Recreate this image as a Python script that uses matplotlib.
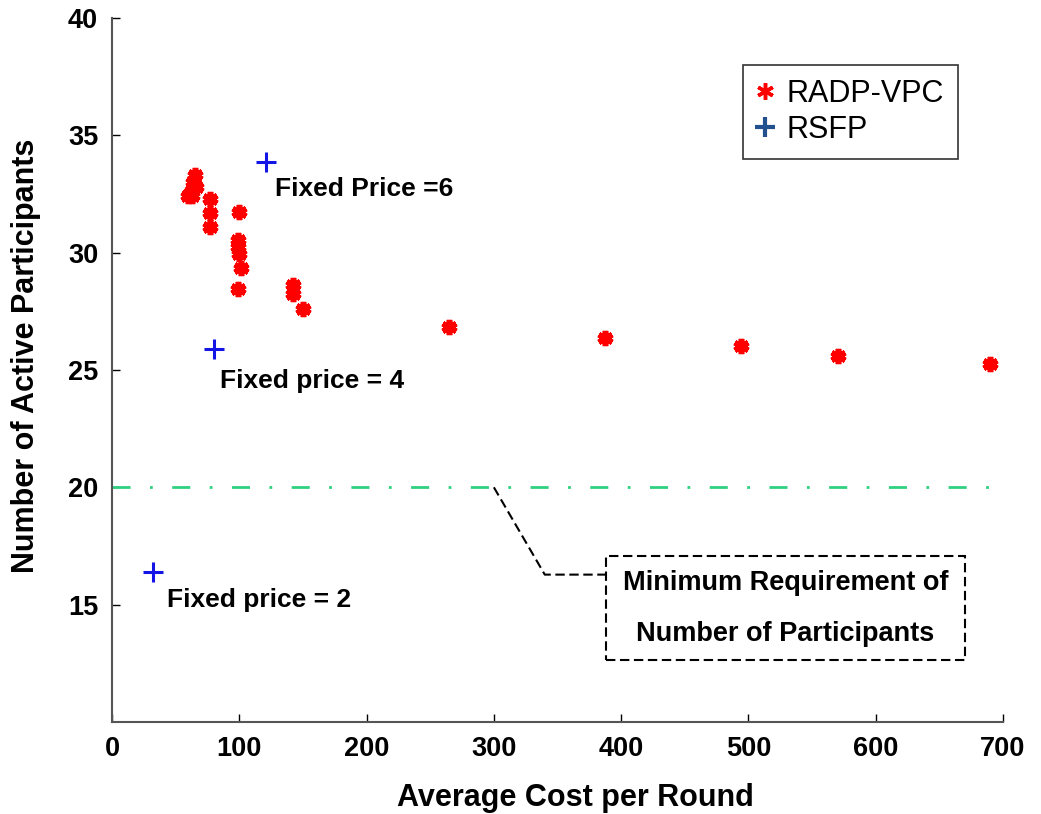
import matplotlib.pyplot as plt
from matplotlib.patches import Rectangle
from matplotlib.lines import Line2D

plt.rcParams['font.family'] = ['Liberation Sans', 'DejaVu Sans']

# RADP-VPC: average cost per round vs number of active participants
radp_cost = [60, 62, 64, 65, 66, 63, 77, 77, 77,
             100, 99, 99, 100, 101, 99,
             142, 142, 150, 265, 387, 494, 570, 690]
radp_part = [32.4, 32.6, 33.0, 33.3, 32.8, 32.4, 32.3, 31.7, 31.1,
             31.75, 30.55, 30.25, 29.95, 29.35, 28.45,
             28.6, 28.25, 27.6, 26.85, 26.35, 26.0, 25.6, 25.25]

# RSFP with fixed prices 6, 4, 2
rsfp_cost = [121, 80, 32]
rsfp_part = [33.85, 25.9, 16.4]
rsfp_labels = ['Fixed Price =6', 'Fixed price = 4', 'Fixed price = 2']
label_pos = [(128, 32.7), (85, 24.55), (43, 15.2)]

min_required = 20

fig = plt.figure(figsize=(10.41, 8.14), dpi=100)
ax = fig.add_axes([0.1076, 0.113, 0.8559, 0.865])

ax.plot(radp_cost, radp_part, linestyle='none', marker=(6, 2, 0), color='red',
        markersize=11, markeredgewidth=4)
ax.plot(rsfp_cost, rsfp_part, linestyle='none', marker='+', color='#1414e6',
        markersize=14, markeredgewidth=2.2)

for txt, (tx, ty) in zip(rsfp_labels, label_pos):
    ax.text(tx, ty, txt, fontsize=19, fontweight='bold', va='center', ha='left')

ax.plot([0, 700], [min_required, min_required], color='#2fd080',
        linestyle=(0, (6.5, 7, 1, 7)), linewidth=2)

# callout for the minimum requirement line
ax.plot([300, 340, 388], [min_required, 16.28, 16.28], color='black',
        linestyle=(0, (4.5, 2.2)), linewidth=1.5)
ax.add_patch(Rectangle((388, 12.66), 282, 4.43, fill=False, edgecolor='black',
                       linestyle=(0, (4.5, 2.2)), linewidth=1.5))
ax.text(529, 15.94, 'Minimum Requirement of', fontsize=19.5, fontweight='bold',
        ha='center', va='center')
ax.text(529, 13.76, 'Number of Participants', fontsize=19.5, fontweight='bold',
        ha='center', va='center')

ax.set_xlim(0, 700)
ax.set_ylim(10, 40)
ax.set_xticks(range(0, 701, 100))
ax.set_yticks(range(15, 41, 5))
ax.tick_params(direction='in', length=6, width=1, labelsize=19.5, pad=10)
for lbl in ax.get_xticklabels() + ax.get_yticklabels():
    lbl.set_fontweight('bold')
ax.spines['top'].set_visible(False)
ax.spines['right'].set_visible(False)
for side in ('left', 'bottom'):
    ax.spines[side].set_color('#555555')
    ax.spines[side].set_linewidth(1.5)

ax.set_xlabel('Average Cost per Round', fontsize=22, fontweight='bold')
ax.xaxis.set_label_coords(0.52, -0.087)
ax.set_ylabel('Number of Active Participants', fontsize=22, fontweight='bold')
ax.yaxis.set_label_coords(-0.08, 0.52)

handles = [Line2D([], [], linestyle='none', marker=(6, 2, 0), color='red',
                  markersize=12, markeredgewidth=2.5),
           Line2D([], [], linestyle='none', marker='+', color='#23508f',
                  markersize=14, markeredgewidth=3)]
leg = ax.legend(handles, ['RADP-VPC', 'RSFP'], loc='upper right',
                bbox_to_anchor=(0.9495, 0.933), borderaxespad=0, fontsize=22,
                fancybox=False, edgecolor='black', handlelength=0.6,
                handletextpad=0.4, borderpad=0.45, labelspacing=0.2)
leg.get_frame().set_linewidth(1.2)

fig.savefig('out.png', dpi=100)
